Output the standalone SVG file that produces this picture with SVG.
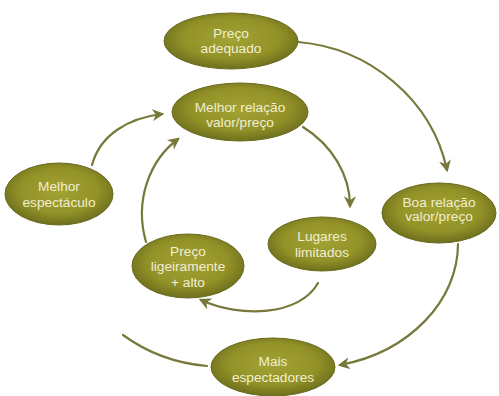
<svg xmlns="http://www.w3.org/2000/svg" width="499" height="396" viewBox="0 0 499 396">
  <style>
    .node ellipse { fill: url(#olive); stroke: #6a6b1e; stroke-width: 1; }
    .node text { font-family: "Liberation Sans", Arial, sans-serif; font-size: 13.7px; fill: #f1eed2; text-anchor: middle; }
    .conn path { fill: none; stroke: #77783a; stroke-width: 2.2; stroke-linecap: round; }
  </style>
  <defs>
    <radialGradient id="olive" cx="50%" cy="45%" r="55%">
      <stop offset="0" stop-color="#a3a234"/>
      <stop offset="0.65" stop-color="#939228"/>
      <stop offset="1" stop-color="#6e6f1d"/>
    </radialGradient>
    <marker id="arrow" viewBox="0 0 10 10" refX="8" refY="5" markerWidth="5.5" markerHeight="5.5" orient="auto" markerUnits="strokeWidth">
      <path d="M0,0 L10,5 L0,10 L3,5 Z" fill="#77783a"/>
    </marker>
  </defs>

  <!-- connectors -->
  <g id="connectors" class="conn">
    <path d="M298,42 C370,48 432,100 447,170" marker-end="url(#arrow)"/>
    <path d="M458,244 C458,300 410,352 340,365" marker-end="url(#arrow)"/>
    <path d="M123,335 Q160,362 207,366"/>
    <path d="M92,165 C100,135 128,118 162,114" marker-end="url(#arrow)"/>
    <path d="M146,242 C134,200 150,160 178,139" marker-end="url(#arrow)"/>
    <path d="M303,127 C332,145 350,175 350,206" marker-end="url(#arrow)"/>
    <path d="M318,283 C300,316 240,318 201,300" marker-end="url(#arrow)"/>
  </g>

  <g id="preco-adequado" class="node">
    <ellipse cx="231" cy="41" rx="67" ry="28"/>
    <text x="231" y="38">Preço</text>
    <text x="231" y="53">adequado</text>
  </g>
  <g id="melhor-relacao" class="node">
    <ellipse cx="240" cy="112" rx="68" ry="29"/>
    <text x="240" y="112">Melhor relação</text>
    <text x="240" y="127">valor/preço</text>
  </g>
  <g id="melhor-espectaculo" class="node">
    <ellipse cx="59" cy="194" rx="54" ry="31"/>
    <text x="59" y="191">Melhor</text>
    <text x="59" y="207">espectáculo</text>
  </g>
  <g id="boa-relacao" class="node">
    <ellipse cx="439" cy="213" rx="57" ry="30"/>
    <text x="439" y="207">Boa relação</text>
    <text x="439" y="221">valor/preço</text>
  </g>
  <g id="preco-ligeiramente" class="node">
    <ellipse cx="188" cy="266" rx="56" ry="32"/>
    <text x="188" y="256">Preço</text>
    <text x="188" y="271">ligeiramente</text>
    <text x="188" y="287">+ alto</text>
  </g>
  <g id="lugares-limitados" class="node">
    <ellipse cx="322" cy="244" rx="54" ry="27"/>
    <text x="322" y="241">Lugares</text>
    <text x="322" y="257">limitados</text>
  </g>
  <g id="mais-espectadores" class="node">
    <ellipse cx="273" cy="367" rx="62" ry="29"/>
    <text x="273" y="366">Mais</text>
    <text x="273" y="382">espectadores</text>
  </g>
</svg>
